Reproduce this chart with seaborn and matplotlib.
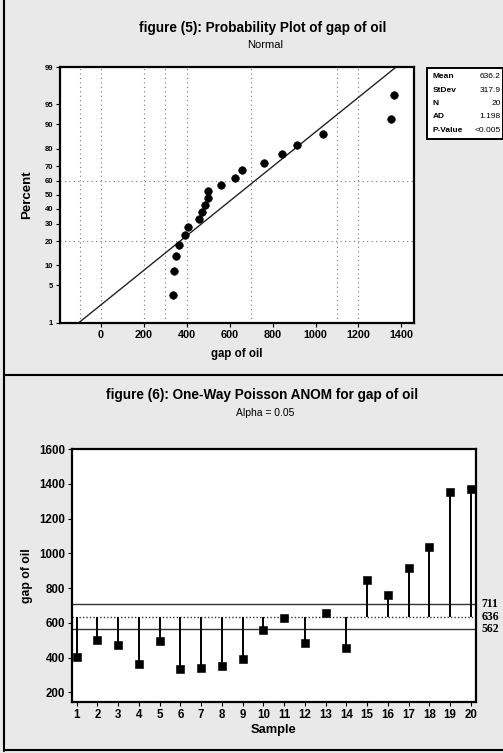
import numpy as np
import pandas as pd
import matplotlib
matplotlib.use("Agg")
import matplotlib.pyplot as plt
import seaborn as sns
from statistics import NormalDist

sns.set_theme(style="white")
plt.rcParams['font.family'] = ['Liberation Sans', 'DejaVu Sans']
plt.rcParams['text.color'] = 'black'
plt.rcParams['axes.labelcolor'] = 'black'
plt.rcParams['xtick.color'] = 'black'
plt.rcParams['ytick.color'] = 'black'

# ---------------- data ----------------
samples = list(range(1, 21))
gap_of_oil = [405, 500, 472, 362, 498, 335, 342, 350, 392, 560,
              626, 486, 658, 458, 846, 762, 914, 1035, 1352, 1368]
stat_names = ["Mean", "StDev", "N", "AD", "P-Value"]
stat_values = ["636.2", "317.9", "20", "1.198", "<0.005"]
fit_mean = 636.2
fit_sd = 317.9
pct_ticks = [1, 5, 10, 20, 30, 40, 50, 60, 70, 80, 90, 95, 99]
x_ticks_top = [0, 200, 400, 600, 800, 1000, 1200, 1400]
vgrid_top = [-100, 0, 200, 300, 400, 700, 1100, 1200]
hgrid_top = [20, 60]
anom_limits = [711, 636, 562]   # UDL, center, LDL
y_ticks_bot = [200, 400, 600, 800, 1000, 1200, 1400, 1600]

nd = NormalDist()
def z(p):
    return nd.inv_cdf(p / 100.0)

BG = '#e9e9e9'
fig = plt.figure(figsize=(5.03, 7.53), dpi=100, facecolor=BG)

# ---------------- top panel: probability plot ----------------
ax1 = fig.add_axes([60/503, 1-322.7/753, 354/503, 255.7/753])
ax1.set_facecolor('white')
n = len(gap_of_oil)
sorted_vals = sorted(gap_of_oil)
pp = [(i - 0.3) / (n + 0.4) * 100 for i in range(1, n + 1)]
df_pts = pd.DataFrame({"x": sorted_vals, "z": [z(p) for p in pp]})
line_p = [1, 99]
df_line = pd.DataFrame({"x": [fit_mean + z(p) * fit_sd for p in line_p],
                        "z": [z(p) for p in line_p]})

for gx in vgrid_top:
    ax1.axvline(gx, color='#777777', lw=0.8, ls=(0, (1, 3)), zorder=0)
for gy in hgrid_top:
    ax1.axhline(z(gy), color='#777777', lw=0.8, ls=(0, (1, 3)), zorder=0)

sns.lineplot(data=df_line, x="x", y="z", ax=ax1, color='#222222', lw=1.0)
sns.scatterplot(data=df_pts, x="x", y="z", ax=ax1, color='black', s=30,
                edgecolor='black', zorder=5)
ax1.set_xlim(-191, 1459)
ax1.set_ylim(z(1), z(99))
ax1.set_yticks([z(p) for p in pct_ticks])
ax1.set_yticklabels([str(p) for p in pct_ticks], fontsize=5.5, fontweight='bold')
ax1.set_xticks(x_ticks_top)
ax1.set_xticklabels([str(t) for t in x_ticks_top], fontsize=7.8, fontweight='bold')
ax1.tick_params(axis='both', direction='out', length=3, width=0.8, colors='black', pad=2,
                left=True, bottom=True)
ax1.set_xlabel("gap of oil", fontsize=8.3, fontweight='bold', labelpad=6)
ax1.set_ylabel("Percent", fontsize=9.5, fontweight='bold', labelpad=8)
for sp in ax1.spines.values():
    sp.set_color('black'); sp.set_linewidth(1.6)

fig.text(263/503, 1-28/753, "figure (5): Probability Plot of gap of oil",
         ha='center', va='center', fontsize=9.8, fontweight='bold')
fig.text(265/503, 1-45/753, "Normal", ha='center', va='center', fontsize=8)

# stats box
axs = fig.add_axes([427/503, 1-139/753, 76/503, 71/753])
axs.set_facecolor('white')
axs.set_xticks([]); axs.set_yticks([])
for sp in axs.spines.values():
    sp.set_color('black'); sp.set_linewidth(1.4)
for i, (nm, vl) in enumerate(zip(stat_names, stat_values)):
    yy = 0.88 - i * 0.19
    axs.text(0.07, yy, nm, fontsize=6, fontweight='bold', va='center', ha='left',
             transform=axs.transAxes)
    axs.text(0.97, yy, vl, fontsize=6, va='center', ha='right',
             transform=axs.transAxes)

# ---------------- bottom panel: ANOM ----------------
ax2 = fig.add_axes([71.7/503, 1-702/753, 404/503, 253/753])
ax2.set_facecolor('white')
udl, center, ldl = anom_limits
ax2.axhline(udl, color='#333333', lw=1.0, zorder=1)
ax2.axhline(center, color='#333333', lw=1.0, ls=(0, (1, 1.5)), zorder=1)
ax2.axhline(ldl, color='#333333', lw=1.0, zorder=1)
df_anom = pd.DataFrame({"Sample": samples, "gap": gap_of_oil})
ax2.vlines(df_anom["Sample"], center, df_anom["gap"], color='black', lw=1.4, zorder=2)
sns.scatterplot(data=df_anom, x="Sample", y="gap", ax=ax2, marker='s', color='black',
                s=28, edgecolor='black', zorder=5)
ax2.set_xlim(0.76, 20.23)
ax2.set_ylim(145, 1590)
ax2.set_xticks(samples)
ax2.set_xticklabels([str(s) for s in samples], fontsize=8.3, fontweight='bold')
ax2.set_yticks(y_ticks_bot)
ax2.set_yticklabels([str(t) for t in y_ticks_bot], fontsize=8.3, fontweight='bold')
ax2.tick_params(axis='both', direction='out', length=3, width=0.8, colors='black', pad=2,
                left=True, bottom=True)
ax2.set_xlabel("Sample", fontsize=9.3, fontweight='bold', labelpad=2)
ax2.set_ylabel("gap of oil", fontsize=8.8, fontweight='bold', labelpad=4)
for sp in ax2.spines.values():
    sp.set_color('black'); sp.set_linewidth(1.6)
for v in anom_limits:
    ax2.text(1.015, v, str(v), transform=ax2.get_yaxis_transform(), va='center', ha='left',
             fontsize=8.5, fontweight='bold', family=['Liberation Serif', 'DejaVu Serif'])

fig.text(262/503, 1-395/753, "figure (6): One-Way Poisson ANOM for gap of oil",
         ha='center', va='center', fontsize=9.8, fontweight='bold')
fig.text(265/503, 1-413/753, "Alpha = 0.05", ha='center', va='center', fontsize=7.5)

# frame lines
fig.add_artist(plt.Line2D([4/503, 4/503], [0.003, 1.0], color='black', lw=1.5))
fig.add_artist(plt.Line2D([4/503, 1.0], [1-375/753, 1-375/753], color='black', lw=1.5))
fig.add_artist(plt.Line2D([4/503, 1.0], [1-750/753, 1-750/753], color='black', lw=1.5))

fig.savefig("out.png", dpi=100, facecolor=BG)
